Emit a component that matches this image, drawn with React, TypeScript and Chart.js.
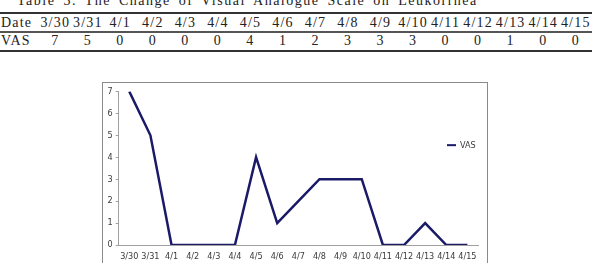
import React, { useEffect, useRef } from "react";
import { Chart, registerables } from "chart.js";

Chart.register(...registerables);

const tableTitle = "Table 3. The Change of Visual Analogue Scale on Leukorrhea";
const rowHeaderDate = "Date";
const rowHeaderValue = "VAS";
const dates = ["3/30", "3/31", "4/1", "4/2", "4/3", "4/4", "4/5", "4/6", "4/7", "4/8", "4/9", "4/10", "4/11", "4/12", "4/13", "4/14", "4/15"];
const vasValues = [7, 5, 0, 0, 0, 0, 4, 1, 2, 3, 3, 3, 0, 0, 1, 0, 0];
const seriesLabel = "VAS";
const yMin = 0;
const yMax = 7;
const yStep = 1;

const LINE_COLOR = "#1a1a68";
const TICK_FONT = "'Liberation Sans Narrow', 'DejaVu Sans Condensed', 'Liberation Sans', sans-serif";

const insideLegend = {
  id: "insideLegend",
  afterDraw(chart: any) {
    const ds = chart.data.datasets[0];
    const { ctx, chartArea } = chart;
    const x = chartArea.right - 31;
    const y = chartArea.top + (chartArea.bottom - chartArea.top) * 0.35;
    ctx.save();
    ctx.strokeStyle = ds.borderColor;
    ctx.lineWidth = 2;
    ctx.beginPath();
    ctx.moveTo(x, y);
    ctx.lineTo(x + 9, y);
    ctx.stroke();
    ctx.fillStyle = "#3a3a3a";
    ctx.font = `9px ${TICK_FONT}`;
    ctx.textBaseline = "middle";
    ctx.textAlign = "left";
    ctx.fillText(ds.label, x + 13, y);
    ctx.restore();
  },
};

function VasChart() {
  const ref = useRef<HTMLCanvasElement | null>(null);
  useEffect(() => {
    if (!ref.current) return;
    const chart = new Chart(ref.current, {
      type: "line",
      data: {
        labels: dates,
        datasets: [
          {
            label: seriesLabel,
            data: vasValues,
            borderColor: LINE_COLOR,
            backgroundColor: LINE_COLOR,
            borderWidth: 2.5,
            pointRadius: 0,
            tension: 0,
            fill: false,
          },
        ],
      },
      options: {
        animation: false,
        responsive: false,
        devicePixelRatio: 1,
        layout: { autoPadding: false, padding: { left: 0, right: 9, top: 6.7, bottom: 0 } },
        plugins: { legend: { display: false }, tooltip: { enabled: false } },
        scales: {
          x: {
            type: "category",
            offset: true,
            grid: { display: false, drawTicks: false },
            border: { display: true, color: "#a0a0a0", width: 1 },
            ticks: {
              color: "#3a3a3a",
              font: { size: 9, family: TICK_FONT },
              padding: 6,
              maxRotation: 0,
              autoSkip: false,
            },
            afterFit: (s: any) => {
              s.height = 36;
            },
          },
          y: {
            min: yMin,
            max: yMax,
            grid: { display: true, drawOnChartArea: false, drawTicks: true, tickLength: 3, color: "#a0a0a0" },
            border: { display: true, color: "#a0a0a0", width: 1 },
            ticks: {
              stepSize: yStep,
              color: "#3a3a3a",
              font: { size: 9, family: TICK_FONT },
              padding: 3,
            },
            afterFit: (s: any) => {
              s.width = 15.7;
            },
          },
        },
      },
      plugins: [insideLegend],
    });
    return () => chart.destroy();
  }, []);
  return <canvas ref={ref} width={384} height={198} style={{ display: "block" }} />;
}

export default function App() {
  const serif = "'Liberation Serif', 'DejaVu Serif', serif";
  const cellRow = (head: string, cells: (string | number)[], top: number) => (
    <div
      style={{
        position: "absolute",
        left: 0,
        top,
        width: 592,
        height: 17,
        lineHeight: "17px",
        display: "flex",
        fontSize: 14,
        letterSpacing: "1.2px",
        color: "#222",
      }}
    >
      <div style={{ width: 38, textAlign: "left", paddingLeft: 1 }}>{head}</div>
      {cells.map((c, i) => (
        <div key={i} style={{ flex: 1, textAlign: "center", whiteSpace: "nowrap" }}>
          {c}
        </div>
      ))}
    </div>
  );
  return (
    <div
      style={{
        position: "absolute",
        left: 0,
        top: 0,
        width: 592,
        height: 263,
        overflow: "hidden",
        background: "#fff",
        fontFamily: serif,
      }}
    >
      <div
        style={{
          position: "absolute",
          left: 17,
          top: -8,
          height: 17,
          lineHeight: "17px",
          fontSize: 14,
          letterSpacing: "1.5px",
          wordSpacing: "3px",
          whiteSpace: "nowrap",
          color: "#222",
        }}
      >
        {tableTitle}
      </div>
      <div style={{ position: "absolute", left: 0, top: 12, width: 592, height: 2, background: "#333" }} />
      {cellRow(rowHeaderDate, dates, 14)}
      <div style={{ position: "absolute", left: 0, top: 31, width: 592, height: 2, background: "#555" }} />
      {cellRow(rowHeaderValue, vasValues, 32)}
      <div style={{ position: "absolute", left: 0, top: 50, width: 592, height: 2, background: "#333" }} />
      <div
        style={{
          position: "absolute",
          left: 102,
          top: 82,
          width: 386,
          height: 200,
          border: "1px solid #8a8a8a",
          boxSizing: "border-box",
        }}
      >
        <VasChart />
      </div>
    </div>
  );
}
